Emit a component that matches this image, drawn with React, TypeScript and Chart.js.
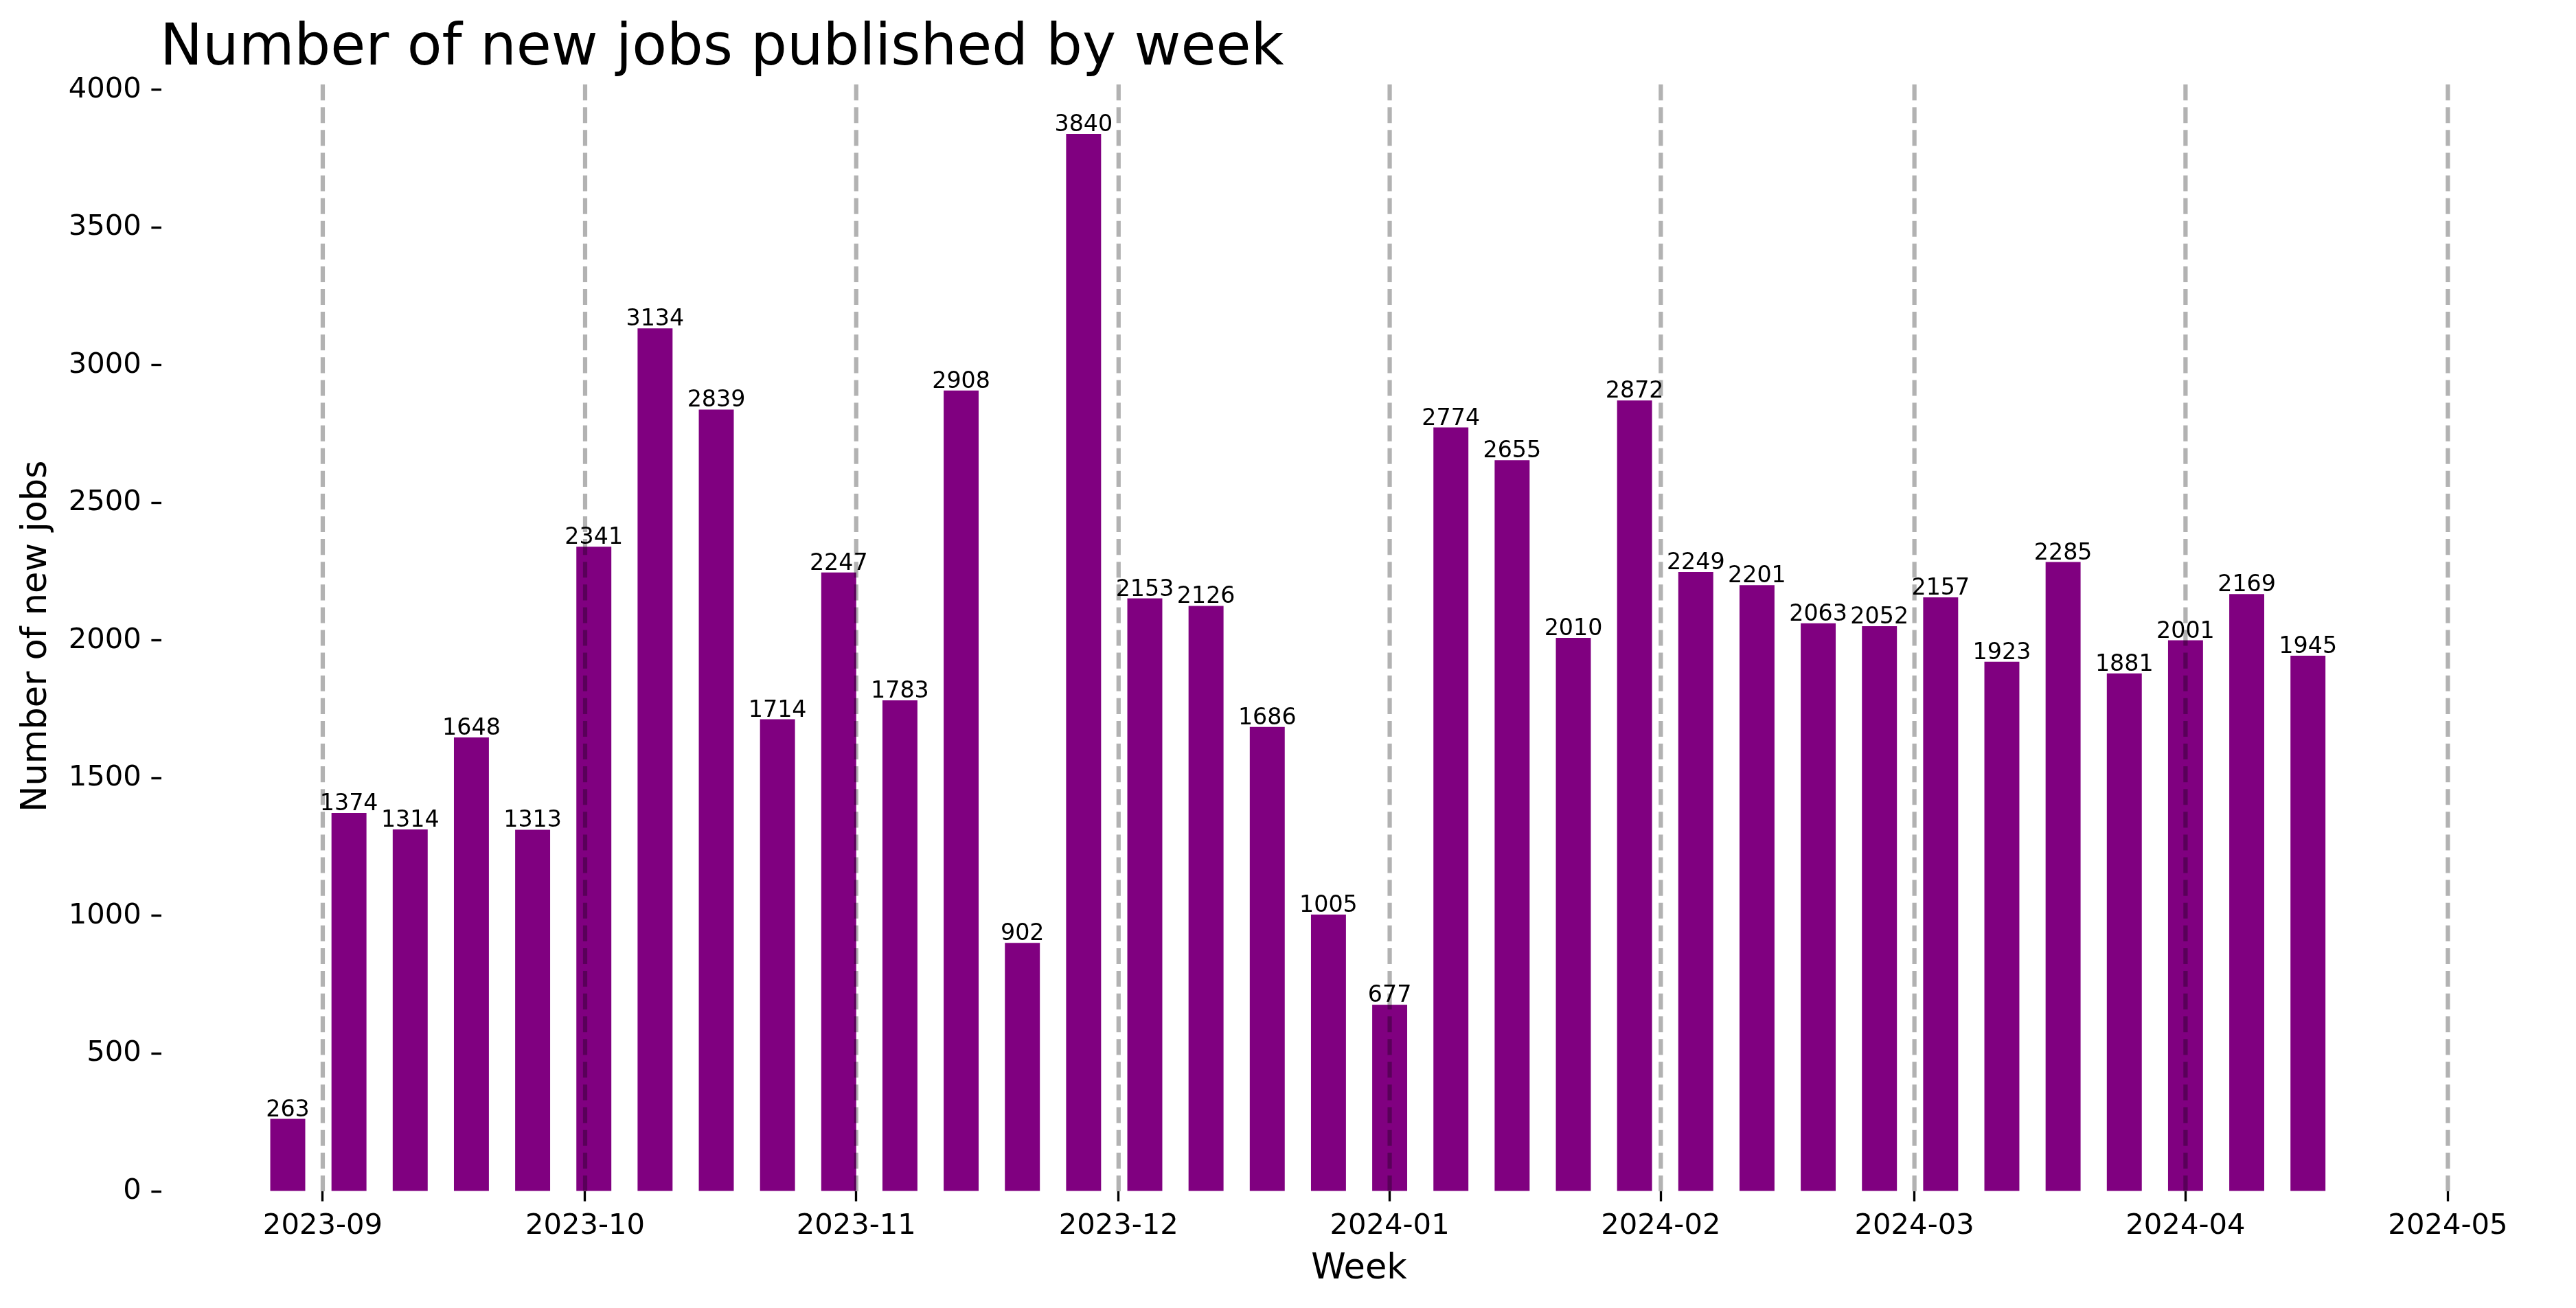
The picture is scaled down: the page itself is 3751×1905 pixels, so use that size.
import React, { useEffect, useRef } from "react";
import { Chart, registerables } from "chart.js";

Chart.register(...registerables);

// ---- Data ----
const weekStarts = [
  "2023-08-28", "2023-09-04", "2023-09-11", "2023-09-18", "2023-09-25",
  "2023-10-02", "2023-10-09", "2023-10-16", "2023-10-23", "2023-10-30",
  "2023-11-06", "2023-11-13", "2023-11-20", "2023-11-27",
  "2023-12-04", "2023-12-11", "2023-12-18", "2023-12-25",
  "2024-01-01", "2024-01-08", "2024-01-15", "2024-01-22", "2024-01-29",
  "2024-02-05", "2024-02-12", "2024-02-19", "2024-02-26",
  "2024-03-04", "2024-03-11", "2024-03-18", "2024-03-25",
  "2024-04-01", "2024-04-08", "2024-04-15",
];
const newJobs = [
  263, 1374, 1314, 1648, 1313,
  2341, 3134, 2839, 1714, 2247,
  1783, 2908, 902, 3840,
  2153, 2126, 1686, 1005,
  677, 2774, 2655, 2010, 2872,
  2249, 2201, 2063, 2052,
  2157, 1923, 2285, 1881,
  2001, 2169, 1945,
];
const monthStarts = [
  "2023-09-01", "2023-10-01", "2023-11-01", "2023-12-01", "2024-01-01",
  "2024-02-01", "2024-03-01", "2024-04-01", "2024-05-01",
];
const yTicks = [0, 500, 1000, 1500, 2000, 2500, 3000, 3500, 4000];

const TITLE = "Number of new jobs published by week";
const X_LABEL = "Week";
const Y_LABEL = "Number of new jobs";
const BAR_WIDTH_DAYS = 4;
const WEEK_DAYS = 7;

const FONT = "'DejaVu Sans', 'Liberation Sans', sans-serif";
const W = 3751;
const H = 1905;

const dayNum = (s: string) => {
  const [y, m, d] = s.split("-").map(Number);
  return Date.UTC(y, m - 1, d) / 86400000;
};

const xs = weekStarts.map(dayNum);
const monthDays = monthStarts.map(dayNum);
const dataMinX = Math.min(xs[0] - BAR_WIDTH_DAYS / 2, monthDays[0]);
const dataMaxX = Math.max(xs[xs.length - 1] + BAR_WIDTH_DAYS / 2, monthDays[monthDays.length - 1]);
const xMargin = (dataMaxX - dataMinX) * 0.05;
const yMax = Math.max(...newJobs) * 1.05;

export default function App() {
  const ref = useRef<HTMLCanvasElement | null>(null);

  useEffect(() => {
    if (!ref.current) return;

    const titlePlugin = {
      id: "leftTitle",
      afterDraw(chart: any) {
        const { ctx, chartArea } = chart;
        ctx.save();
        ctx.font = `83px ${FONT}`;
        ctx.fillStyle = "#000";
        ctx.textAlign = "left";
        ctx.textBaseline = "alphabetic";
        ctx.fillText(TITLE, chartArea.left - 2, chartArea.top - 24);
        ctx.restore();
      },
    };

    const overlayPlugin = {
      id: "overlay",
      afterDatasetsDraw(chart: any) {
        const { ctx, chartArea } = chart;
        const xScale = chart.scales.x;
        // month lines
        ctx.save();
        ctx.strokeStyle = "rgba(0,0,0,0.3)";
        ctx.lineWidth = 6.25;
        ctx.setLineDash([23.1, 10]);
        ctx.lineCap = "butt";
        monthDays.forEach((d) => {
          const x = xScale.getPixelForValue(d);
          ctx.beginPath();
          ctx.moveTo(x, chartArea.bottom);
          ctx.lineTo(x, chartArea.top);
          ctx.stroke();
        });
        ctx.restore();
        // bar labels
        const meta = chart.getDatasetMeta(0);
        ctx.save();
        ctx.font = `33.3px ${FONT}`;
        ctx.fillStyle = "#000";
        ctx.textAlign = "center";
        ctx.textBaseline = "alphabetic";
        meta.data.forEach((el: any, i: number) => {
          ctx.fillText(String(newJobs[i]), el.x, el.y - 4);
        });
        ctx.restore();
      },
    };

    const chart = new Chart(ref.current, {
      type: "bar",
      data: {
        datasets: [
          {
            label: Y_LABEL,
            data: xs.map((x, i) => ({ x, y: newJobs[i] })),
            backgroundColor: "#800080",
            borderWidth: 0,
            categoryPercentage: 1,
            barPercentage: BAR_WIDTH_DAYS / WEEK_DAYS,
          },
        ],
      },
      options: {
        responsive: false,
        animation: false,
        devicePixelRatio: 1,
        layout: { padding: { top: 118, left: 0, right: 28, bottom: 0 } },
        plugins: {
          legend: { display: false },
          tooltip: { enabled: false },
          title: { display: false },
        },
        scales: {
          x: {
            type: "linear",
            offset: false,
            min: dataMinX - xMargin,
            max: dataMaxX + xMargin,
            afterBuildTicks: (scale: any) => {
              scale.ticks = monthDays.map((v) => ({ value: v }));
            },
            afterFit: (scale: any) => {
              scale.height = 170;
            },
            ticks: {
              autoSkip: false,
              maxRotation: 0,
              minRotation: 0,
              padding: 12,
              color: "#000",
              font: { family: FONT, size: 41.7 },
              callback: (_v: any, i: number) => monthStarts[i].slice(0, 7),
            },
            grid: {
              offset: false,
              drawOnChartArea: false,
              drawTicks: true,
              tickLength: 14.6,
              tickWidth: 3.33,
              tickColor: "#000",
            },
            border: { display: false },
            title: {
              display: true,
              text: X_LABEL,
              color: "#000",
              font: { family: FONT, size: 51 },
              padding: { top: 0, bottom: 26 },
            },
          },
          y: {
            type: "linear",
            min: 0,
            max: yMax,
            afterBuildTicks: (scale: any) => {
              scale.ticks = yTicks.map((v) => ({ value: v }));
            },
            afterFit: (scale: any) => {
              scale.width = 235;
            },
            ticks: {
              padding: 14.6,
              color: "#000",
              font: { family: FONT, size: 41.7 },
              callback: (v: any) => String(v),
            },
            grid: {
              drawOnChartArea: false,
              drawTicks: true,
              tickLength: 14.6,
              tickWidth: 3.33,
              tickColor: "#000",
            },
            border: { display: false },
            title: {
              display: true,
              text: Y_LABEL,
              color: "#000",
              font: { family: FONT, size: 51 },
              padding: { top: 23, bottom: 0 },
            },
          },
        },
      },
      plugins: [titlePlugin, overlayPlugin],
    } as any);

    return () => chart.destroy();
  }, []);

  return (
    <div style={{ position: "fixed", left: 0, top: 0, width: W, height: H, background: "#fff" }}>
      <canvas ref={ref} width={W} height={H} style={{ width: W, height: H, display: "block" }} />
    </div>
  );
}
